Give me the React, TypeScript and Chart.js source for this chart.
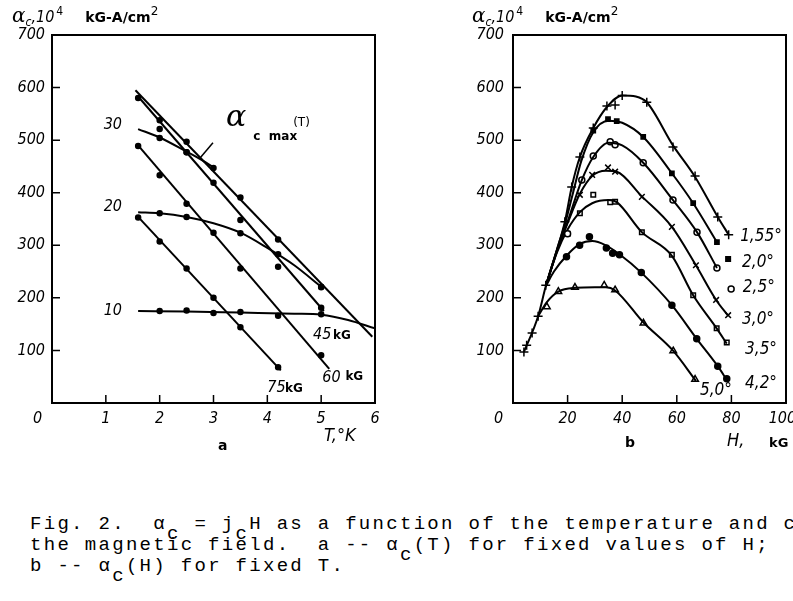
import React, { useEffect, useRef } from 'react';
import { Chart, registerables } from 'chart.js';

Chart.register(...registerables);

// ---------------- Panel a: alpha_c(T) for fixed H ----------------
const aXTicks = [0, 6, 1];
const aYTicks = [0, 700, 100];

const h10LineT = [1.6, 2.5, 3.5, 4.5, 5.0, 5.5, 6.0];
const h10LineA = [175, 174, 172, 170, 168, 158, 142];
const h10PtsT = [2.0, 2.5, 3.0, 3.5, 4.2, 5.0];
const h10PtsA = [175, 176, 171, 173, 166, 169];

const h20LineT = [1.6, 2.0, 2.5, 3.0, 3.5, 4.0, 4.5, 5.0];
const h20LineA = [363, 361, 354, 342, 324, 295, 262, 221];
const h20PtsT = [2.0, 2.5, 3.5, 4.2, 5.0];
const h20PtsA = [361, 354, 323, 283, 220];

const h30LineT = [1.6, 2.0, 2.5, 2.8, 3.0];
const h30LineA = [521, 505, 478, 461, 448];
const h30PtsT = [2.0, 2.0, 2.5];
const h30PtsA = [521, 504, 477];

const maxLineT = [1.55, 5.95];
const maxLineA = [595, 126];
const maxPtsT = [2.5, 3.0, 3.5, 4.2, 5.0];
const maxPtsA = [497, 447, 391, 311, 221];

const h45LineT = [1.6, 5.05];
const h45LineA = [583, 175];
const h45PtsT = [1.6, 2.0, 2.5, 3.0, 3.5, 4.2, 5.0];
const h45PtsA = [580, 538, 477, 419, 348, 259, 181];

const h60LineT = [1.6, 5.15];
const h60LineA = [490, 65];
const h60PtsT = [1.6, 2.0, 2.5, 3.0, 3.5, 5.0];
const h60PtsA = [489, 433, 379, 324, 256, 91];

const h75LineT = [1.6, 4.25];
const h75LineA = [354, 62];
const h75PtsT = [1.6, 2.0, 2.5, 3.0, 3.5, 4.2];
const h75PtsA = [353, 307, 256, 200, 144, 68];

const leaderT = [2.99, 2.75];
const leaderA = [495, 466];

// ---------------- Panel b: alpha_c(H) for fixed T ----------------
const bXTicks = [0, 100, 20];
const bYTicks = [0, 700, 100];

const t155LineH = [4, 9.2, 12, 16, 19, 21.5, 24.5, 29.4, 34.4, 40, 45, 49, 58.6, 66.7, 75, 79];
const t155LineA = [97, 165, 222, 290, 345, 411, 468, 523, 563, 585, 583, 572, 490, 430, 354, 320];
const t155PtsH = [4, 5, 7, 9.2, 12, 19, 21.5, 24.5, 29.4, 34.4, 37.4, 40, 49, 58.6, 66.7, 75, 79];
const t155PtsA = [97, 110, 133, 165, 224, 345, 411, 468, 523, 565, 567, 585, 572, 487, 432, 354, 320];

const t20LineH = [12, 16, 19, 22, 25, 29.4, 35, 40, 47.7, 58.2, 66, 74.7];
const t20LineA = [222, 290, 340, 400, 460, 515, 537, 533, 506, 437, 380, 306];
const t20PtsH = [29.4, 34.8, 38, 47.7, 58.2, 66, 74.7];
const t20PtsA = [518, 540, 536, 506, 437, 380, 306];

const t25LineH = [12, 16, 20, 25.2, 29.4, 35, 40, 47.7, 58.6, 67.4, 74.7];
const t25LineA = [222, 288, 345, 424, 468, 495, 490, 457, 386, 325, 257];
const t25PtsH = [20, 25.2, 29.4, 35.6, 37.4, 47.7, 58.6, 67.4, 74.7];
const t25PtsA = [322, 424, 470, 497, 491, 457, 386, 325, 257];

const t30LineH = [12, 16, 20, 24.5, 29, 34, 38, 47.2, 58.2, 67, 74.4, 78.8];
const t30LineA = [222, 287, 342, 398, 432, 442, 440, 393, 335, 262, 196, 166];
const t30PtsH = [24.5, 29, 34.8, 37.4, 47.2, 58.2, 67, 74.4, 78.8];
const t30PtsA = [396, 434, 448, 440, 392, 335, 262, 196, 167];

const t35LineH = [12, 16, 20, 24.5, 29, 35, 38, 47.2, 58.2, 66, 74.6, 78.3];
const t35LineA = [222, 285, 330, 363, 380, 386, 382, 325, 280, 205, 142, 113];
const t35PtsH = [20, 24.5, 29.4, 35.6, 37.4, 47.2, 58.2, 66, 74.6, 78.3];
const t35PtsA = [322, 361, 396, 382, 383, 325, 282, 205, 142, 115];

const t42LineH = [12, 15, 19.6, 24.4, 29, 34, 39, 47, 58.2, 67.3, 75, 78.3];
const t42LineA = [222, 250, 280, 302, 308, 300, 283, 248, 186, 122, 70, 44];
const t42PtsH = [19.6, 24.4, 28, 34.2, 36.5, 39, 47, 58.2, 67.3, 75, 78.3];
const t42PtsA = [278, 300, 316, 295, 285, 282, 248, 186, 122, 70, 46];

const t50LineH = [9.2, 12.4, 16.6, 23, 30, 34, 37.4, 47.8, 58.7, 67];
const t50LineA = [165, 192, 212, 219, 220, 220, 214, 153, 99, 42];
const t50PtsH = [12.4, 16.6, 22.7, 33.4, 37.4, 47.8, 58.7, 66.7];
const t50PtsA = [183, 212, 220, 224, 215, 152, 99, 45];

// legend markers next to the curve labels
const keyMarkH = [78.8, 79.9];
const keyMarkA = [274, 217];

// ---------------- text annotations (data coordinates) ----------------
const NUM = "'DejaVu Sans Condensed', 'DejaVu Sans', sans-serif";
const UNIT = "bold 12px 'DejaVu Sans', sans-serif";
const NUMF = `italic 16px ${NUM}`;
const NUMF17 = `italic 17px ${NUM}`;

type Lbl = { x: number; y: number; text: string; font: string; align?: CanvasTextAlign };

const leftLabels: Lbl[] = [
  { x: 1.13, y: 529, text: '30', font: NUMF, align: 'center' },
  { x: 1.13, y: 373, text: '20', font: NUMF, align: 'center' },
  { x: 1.13, y: 175, text: '10', font: NUMF, align: 'center' },
  { x: 4.85, y: 129, text: '45', font: NUMF },
  { x: 5.22, y: 127, text: 'kG', font: UNIT },
  { x: 5.02, y: 48, text: '60', font: NUMF },
  { x: 5.45, y: 50, text: 'kG', font: UNIT },
  { x: 4.0, y: 29, text: '75', font: NUMF },
  { x: 4.33, y: 27, text: 'kG', font: UNIT },
  { x: 3.42, y: 542, text: 'α', font: "italic 30px 'DejaVu Serif', serif", align: 'center' },
  { x: 3.74, y: 506, text: 'c  max', font: "bold 12px 'DejaVu Sans', sans-serif" },
  { x: 4.48, y: 533, text: '(T)', font: "12px 'DejaVu Sans', sans-serif" },
];

const rightLabels: Lbl[] = [
  { x: 83.2, y: 316, text: '1,55°', font: NUMF17 },
  { x: 83.9, y: 268, text: '2,0°', font: NUMF17 },
  { x: 84.2, y: 219, text: '2,5°', font: NUMF17 },
  { x: 83.9, y: 158, text: '3,0°', font: NUMF17 },
  { x: 85.0, y: 101, text: '3,5°', font: NUMF17 },
  { x: 85.0, y: 36, text: '4,2°', font: NUMF17 },
  { x: 68.5, y: 23, text: '5,0°', font: NUMF17 },
];

// ---------------- helpers ----------------
const xy = (xs: number[], ys: number[]) => xs.map((x, i) => ({ x, y: ys[i] }));

const lineDs = (xs: number[], ys: number[], smooth: boolean, width = 2) => ({
  type: 'line' as const,
  data: xy(xs, ys),
  borderColor: '#000',
  borderWidth: width,
  pointRadius: 0,
  fill: false,
  tension: 0,
  cubicInterpolationMode: smooth ? 'monotone' : 'default',
});

const ptsDs = (xs: number[], ys: number[], style: string, filled: boolean, r: number) => ({
  type: 'line' as const,
  data: xy(xs, ys),
  showLine: false,
  pointStyle: style,
  pointRadius: r,
  pointBackgroundColor: filled ? '#000' : '#fff',
  pointBorderColor: '#000',
  pointBorderWidth: 1.5,
});

const framePlugin = {
  id: 'frameTicks',
  afterDatasetsDraw(chart: any) {
    const { ctx, chartArea: a, scales } = chart;
    ctx.save();
    ctx.strokeStyle = '#000';
    ctx.lineWidth = 2;
    ctx.strokeRect(a.left, a.top, a.right - a.left, a.bottom - a.top);
    ctx.lineWidth = 1.5;
    ctx.beginPath();
    scales.x.ticks.forEach((t: any) => {
      const px = scales.x.getPixelForValue(t.value);
      if (px > a.left + 2 && px < a.right - 2) {
        ctx.moveTo(px, a.bottom);
        ctx.lineTo(px, a.bottom - 8);
      }
    });
    scales.y.ticks.forEach((t: any) => {
      const py = scales.y.getPixelForValue(t.value);
      if (py > a.top + 2 && py < a.bottom - 2) {
        ctx.moveTo(a.left, py);
        ctx.lineTo(a.left + 8, py);
      }
    });
    ctx.stroke();
    ctx.restore();
  },
};

const labelPlugin = (labels: Lbl[]) => ({
  id: 'textLabels',
  afterDraw(chart: any) {
    const { ctx, scales } = chart;
    ctx.save();
    ctx.fillStyle = '#000';
    ctx.textBaseline = 'middle';
    labels.forEach((l) => {
      ctx.font = l.font;
      ctx.textAlign = l.align || 'left';
      ctx.fillText(l.text, scales.x.getPixelForValue(l.x), scales.y.getPixelForValue(l.y));
    });
    ctx.restore();
  },
});

const tickFont = { family: NUM, size: 16, style: 'italic' as const };

const makeScales = (xt: number[], yt: number[], yWidth: number, yPad: number) => ({
  x: {
    type: 'linear' as const,
    min: xt[0],
    max: xt[1],
    afterFit: (s: any) => {
      s.height = 30;
    },
    ticks: {
      stepSize: xt[2],
      autoSkip: false,
      maxRotation: 0,
      color: '#000',
      font: tickFont,
      padding: 6,
      callback: (v: any) => (v === 0 ? '0\u2003\u2003' : v === 100 ? '100\u2002' : String(v)),
    },
    grid: { display: false, drawTicks: false },
    border: { display: false },
  },
  y: {
    type: 'linear' as const,
    min: yt[0],
    max: yt[1],
    afterFit: (s: any) => {
      s.width = yWidth;
    },
    ticks: {
      stepSize: yt[2],
      autoSkip: false,
      color: '#000',
      font: tickFont,
      padding: yPad,
      callback: (v: any) => (v === 0 ? '' : String(v)),
    },
    grid: { display: false, drawTicks: false },
    border: { display: false },
  },
});

const baseOptions = (padding: any, scales: any) => ({
  responsive: false,
  maintainAspectRatio: false,
  animation: false as const,
  events: [],
  layout: { padding },
  plugins: { legend: { display: false }, tooltip: { enabled: false } },
  scales,
});

const buildLeft = () => ({
  type: 'line' as const,
  data: {
    datasets: [
      lineDs(h10LineT, h10LineA, true),
      ptsDs(h10PtsT, h10PtsA, 'circle', true, 2.5),
      lineDs(h20LineT, h20LineA, true),
      ptsDs(h20PtsT, h20PtsA, 'circle', true, 2.5),
      lineDs(h30LineT, h30LineA, true),
      ptsDs(h30PtsT, h30PtsA, 'circle', true, 2.5),
      lineDs(maxLineT, maxLineA, false),
      ptsDs(maxPtsT, maxPtsA, 'circle', true, 2.5),
      lineDs(h45LineT, h45LineA, false),
      ptsDs(h45PtsT, h45PtsA, 'circle', true, 2.5),
      lineDs(h60LineT, h60LineA, false),
      ptsDs(h60PtsT, h60PtsA, 'circle', true, 2.5),
      lineDs(h75LineT, h75LineA, false),
      ptsDs(h75PtsT, h75PtsA, 'circle', true, 2.5),
      lineDs(leaderT, leaderA, false, 1.5),
    ],
  },
  options: baseOptions({ left: 0, top: 35, right: 21, bottom: 37 }, makeScales(aXTicks, aYTicks, 52, 7)),
  plugins: [framePlugin, labelPlugin(leftLabels)],
});

const buildRight = () => ({
  type: 'line' as const,
  data: {
    datasets: [
      lineDs(t155LineH, t155LineA, true),
      ptsDs(t155PtsH, t155PtsA, 'cross', false, 4.5),
      lineDs(t20LineH, t20LineA, true),
      ptsDs(t20PtsH, t20PtsA, 'rect', true, 3),
      lineDs(t25LineH, t25LineA, true),
      ptsDs(t25PtsH, t25PtsA, 'circle', false, 3),
      lineDs(t30LineH, t30LineA, true),
      ptsDs(t30PtsH, t30PtsA, 'crossRot', false, 4),
      lineDs(t35LineH, t35LineA, true),
      ptsDs(t35PtsH, t35PtsA, 'rect', false, 3.2),
      lineDs(t42LineH, t42LineA, true),
      ptsDs(t42PtsH, t42PtsA, 'circle', true, 3),
      lineDs(t50LineH, t50LineA, true),
      ptsDs(t50PtsH, t50PtsA, 'triangle', false, 3.8),
      ptsDs(keyMarkH.slice(0, 1), keyMarkA.slice(0, 1), 'rect', true, 3.2),
      ptsDs(keyMarkH.slice(1), keyMarkA.slice(1), 'circle', false, 3),
    ],
  },
  options: baseOptions({ left: 0, top: 35, right: 34, bottom: 37 }, makeScales(bXTicks, bYTicks, 113, 9)),
  plugins: [framePlugin, labelPlugin(rightLabels)],
});

function ChartCanvas({ left, width, height, build }: { left: number; width: number; height: number; build: () => any }) {
  const ref = useRef<HTMLCanvasElement>(null);
  useEffect(() => {
    const chart = new Chart(ref.current as HTMLCanvasElement, build());
    return () => chart.destroy();
  }, []);
  return (
    <canvas
      ref={ref}
      width={width}
      height={height}
      style={{ position: 'absolute', left, top: 0, width, height }}
    />
  );
}

const abs = (left: number, top: number, extra: React.CSSProperties = {}): React.CSSProperties => ({
  position: 'absolute',
  left,
  top,
  whiteSpace: 'nowrap',
  color: '#000',
  ...extra,
});

function AxisTitle({ left }: { left: number }) {
  return (
    <div style={abs(left, 1, { lineHeight: '28px' })}>
      <span style={{ fontFamily: "'DejaVu Serif', serif", fontStyle: 'italic', fontSize: 20 }}>α</span>
      <span style={{ fontFamily: NUM, fontStyle: 'italic', fontSize: 12, position: 'relative', top: 4 }}>c</span>
      <span style={{ fontFamily: NUM, fontStyle: 'italic', fontSize: 16 }}>,10</span>
      <span style={{ fontFamily: NUM, fontSize: 12, position: 'relative', top: -7, marginLeft: 2 }}>4</span>
      <span style={{ fontFamily: "'DejaVu Sans', sans-serif", fontWeight: 'bold', fontSize: 14, marginLeft: 22 }}>
        kG-A/cm
      </span>
      <span style={{ fontFamily: "'DejaVu Sans', sans-serif", fontSize: 12, position: 'relative', top: -7 }}>2</span>
    </div>
  );
}

const Sub = ({ children }: { children: React.ReactNode }) => (
  <span style={{ position: 'relative', top: 10 }}>{children}</span>
);

export default function App() {
  return (
    <div
      style={{
        position: 'absolute',
        left: 0,
        top: 0,
        width: 793,
        height: 601,
        overflow: 'hidden',
        background: '#fff',
      }}
    >
      <ChartCanvas left={0} width={396} height={470} build={buildLeft} />
      <ChartCanvas left={400} width={420} height={470} build={buildRight} />

      <AxisTitle left={12} />
      <AxisTitle left={472} />

      <div style={abs(218, 434, { fontFamily: "'DejaVu Sans', sans-serif", fontWeight: 'bold', fontSize: 14, lineHeight: '22px' })}>a</div>
      <div style={abs(324, 424, { fontFamily: NUM, fontStyle: 'italic', fontSize: 18, lineHeight: '22px' })}>T,°K</div>

      <div style={abs(625, 431, { fontFamily: "'DejaVu Sans', sans-serif", fontWeight: 'bold', fontSize: 14, lineHeight: '22px' })}>b</div>
      <div style={abs(727, 429, { fontFamily: NUM, fontStyle: 'italic', fontSize: 18, lineHeight: '22px' })}>H,</div>
      <div style={abs(769, 432, { fontFamily: "'DejaVu Sans', sans-serif", fontWeight: 'bold', fontSize: 13, lineHeight: '22px' })}>kG</div>

      <div
        style={abs(30, 514, {
          fontFamily: "'Liberation Mono', 'DejaVu Sans Mono', monospace",
          fontSize: 19,
          letterSpacing: '2.3px',
          lineHeight: '21px',
          whiteSpace: 'pre',
        })}
      >
        <div>
          Fig. 2.  α<Sub>c</Sub> = j<Sub>c</Sub>H as a function of the temperature and c
        </div>
        <div>
          the magnetic field.  a -- α<Sub>c</Sub>(T) for fixed values of H;
        </div>
        <div>
          b -- α<Sub>c</Sub>(H) for fixed T.
        </div>
      </div>
    </div>
  );
}
